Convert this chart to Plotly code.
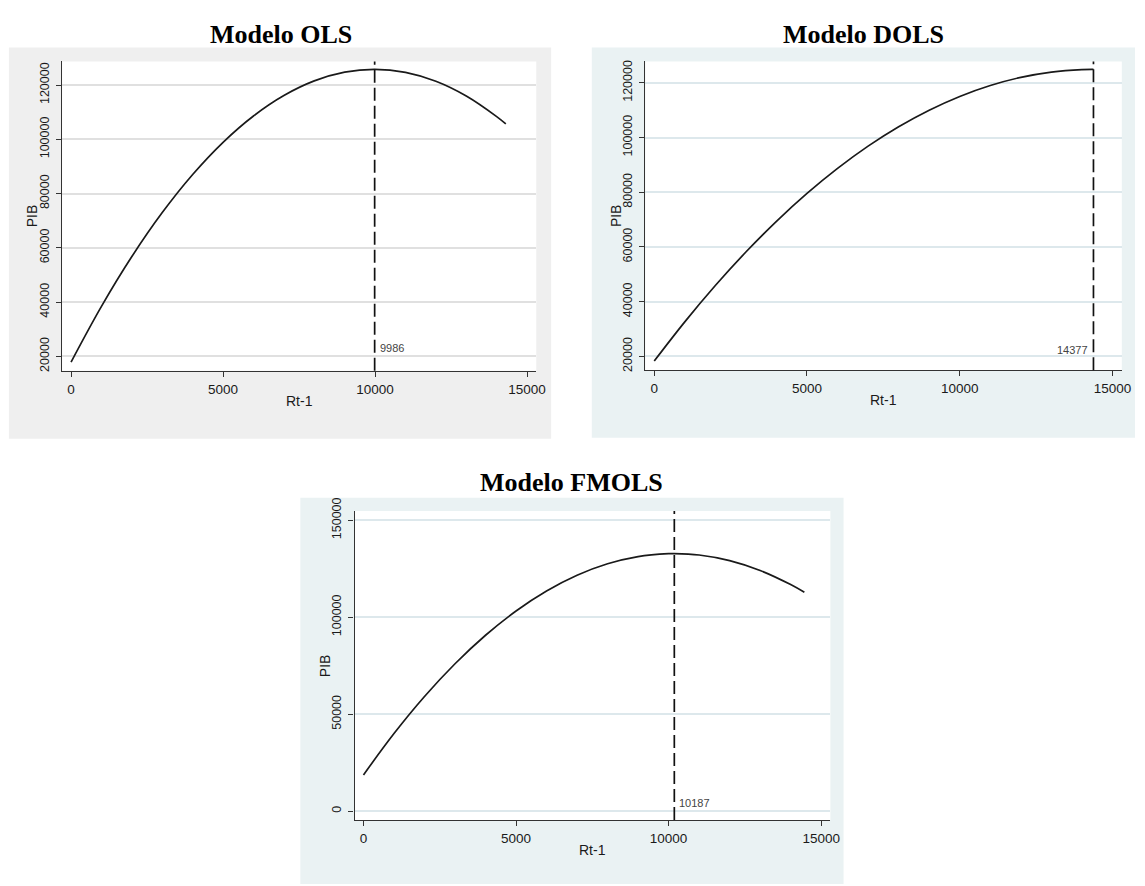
import plotly.graph_objects as go

W, H = 1145, 886

# ---------------- data ----------------
titles = ["Modelo OLS", "Modelo DOLS", "Modelo FMOLS"]

ols_rt = [0, 1000, 2000, 3000, 4000, 5000, 6000, 7000, 8000, 9000, 9986,
          11000, 12000, 13000, 14000, 14300]
ols_pib = [17900, 38430, 56790, 72990, 87030, 98900, 108610, 116150, 121530,
           124750, 125800, 124690, 121410, 115970, 108370, 105660]

dols_rt = [0, 1000, 2000, 3000, 4000, 5000, 6000, 7000, 8000, 9000, 10000,
           11000, 12000, 13000, 14000, 14377]
dols_pib = [18300, 32620, 45900, 58150, 69370, 79560, 88710, 96840, 103930,
            109990, 115020, 119020, 121990, 123920, 124830, 124900]

fmols_rt = [0, 1000, 2000, 3000, 4000, 5000, 6000, 7000, 8000, 9000, 10000,
            10187, 11000, 12000, 13000, 14000, 14450]
fmols_pib = [18750, 40040, 59140, 76030, 90730, 103230, 113530, 121640, 127540,
             131250, 132760, 132800, 132070, 129190, 124100, 116820, 112830]

turning_points = [9986, 14377, 10187]
turning_labels = ["9986", "14377", "10187"]

x_ticks = [0, 5000, 10000, 15000]
y_ticks_ols = [20000, 40000, 60000, 80000, 100000, 120000]
y_ticks_dols = [20000, 40000, 60000, 80000, 100000, 120000]
y_ticks_fmols = [0, 50000, 100000, 150000]

x_title = "Rt-1"
y_title = "PIB"

# ---------------- layout geometry (pixels) ----------------
panels = [
    dict(name="1", xs=ols_rt, ys=ols_pib, yt=y_ticks_ols,
         plot=(62.7, 541.0, 49.3, 364.0), bg=(9, 556, 35, 433),
         xr=[-293, 15302], yr=[14674, 128700],
         bgcol="#efefef", gridcol="#e0e0e0", title_xy=(283, 22),
         lab_side="right", lab_y=0.074),
    dict(name="2", xs=dols_rt, ys=dols_pib, yt=y_ticks_dols,
         plot=(651.0, 1131.7, 49.3, 363.3), bg=(597, 1145, 35, 432),
         xr=[-292, 15305], yr=[14970, 127800],
         bgcol="#eaf2f3", gridcol="#dde8ec", title_xy=(871, 22),
         lab_side="left", lab_y=0.064),
    dict(name="3", xs=fmols_rt, ys=fmols_pib, yt=y_ticks_fmols,
         plot=(357.7, 837.7, 506.7, 821.0), bg=(303, 851, 493, 886),
         xr=[-292, 15302], yr=[-4560, 154700],
         bgcol="#eaf2f3", gridcol="#dde8ec", title_xy=(577, 478),
         lab_side="right", lab_y=0.056),
]

fig = go.Figure()
shapes = []
annotations = []
layout_axes = {}

# panel backgrounds first
for p in panels:
    x0, x1, y0, y1 = p["bg"]
    shapes.append(dict(type="rect", xref="paper", yref="paper",
                       x0=x0 / W, x1=x1 / W, y0=1 - y1 / H, y1=1 - y0 / H,
                       fillcolor=p["bgcol"], line=dict(width=0), layer="below"))

for i, p in enumerate(panels):
    n = p["name"]
    xa = "xaxis" if n == "1" else f"xaxis{n}"
    ya = "yaxis" if n == "1" else f"yaxis{n}"
    xref = "x" if n == "1" else f"x{n}"
    yref = "y" if n == "1" else f"y{n}"
    px0, px1, py0, py1 = p["plot"]

    # white plot region
    shapes.append(dict(type="rect", xref="paper", yref="paper",
                       x0=px0 / W, x1=px1 / W, y0=1 - py1 / H, y1=1 - py0 / H,
                       fillcolor="white", line=dict(width=0), layer="below"))

    fig.add_trace(go.Scatter(x=p["xs"], y=p["ys"], mode="lines",
                             line=dict(color="#1a1a1a", width=1.7, shape="spline",
                                       smoothing=1.0),
                             xaxis=xref, yaxis=yref, showlegend=False,
                             hoverinfo="skip"))

    layout_axes[xa] = dict(domain=[px0 / W, px1 / W], range=p["xr"],
                           anchor=yref, tickvals=x_ticks,
                           ticktext=[str(v) for v in x_ticks],
                           showgrid=False, zeroline=False, showline=True,
                           linecolor="#333333", linewidth=1.3,
                           ticks="outside", ticklen=5, tickwidth=1.2,
                           tickcolor="#333333",
                           tickfont=dict(family="Liberation Sans", size=13.5,
                                         color="#1a1a1a"),
                           ticklabelstandoff=1, fixedrange=True)
    layout_axes[ya] = dict(domain=[1 - py1 / H, 1 - py0 / H], range=p["yr"],
                           anchor=xref, tickvals=p["yt"],
                           ticktext=[str(v) for v in p["yt"]],
                           tickangle=-90,
                           showgrid=True, gridcolor=p["gridcol"], gridwidth=1.5,
                           zeroline=False, showline=True,
                           linecolor="#333333", linewidth=1.3,
                           ticks="outside", ticklen=5, tickwidth=1.2,
                           tickcolor="#333333",
                           tickfont=dict(family="Liberation Sans", size=12.5,
                                         color="#1a1a1a"),
                           ticklabelstandoff=2, fixedrange=True)

    # turning point dashed line
    tp = turning_points[i]
    shapes.append(dict(type="line", xref=xref, yref=f"{yref} domain",
                       x0=tp, x1=tp, y0=0, y1=1,
                       line=dict(color="#111111", width=1.7, dash="13px,5px"),
                       layer="above"))
    if p["lab_side"] == "right":
        annotations.append(dict(xref=xref, yref=f"{yref} domain", x=tp, y=p["lab_y"],
                                text=turning_labels[i], showarrow=False,
                                xanchor="left", yanchor="middle", xshift=3,
                                font=dict(family="Liberation Sans", size=11,
                                          color="#444444")))
    else:
        annotations.append(dict(xref=xref, yref=f"{yref} domain", x=tp, y=p["lab_y"],
                                text=turning_labels[i], showarrow=False,
                                xanchor="right", yanchor="middle", xshift=-3,
                                font=dict(family="Liberation Sans", size=11,
                                          color="#444444")))

    # axis titles
    annotations.append(dict(xref=f"{xref} domain", yref=f"{yref} domain",
                            x=0.5, y=0, yshift=-30, text=x_title, showarrow=False,
                            xanchor="center", yanchor="middle",
                            font=dict(family="Liberation Sans", size=14,
                                      color="#1a1a1a")))
    annotations.append(dict(xref=f"{xref} domain", yref=f"{yref} domain",
                            x=0, y=0.5, xshift=-30, text=y_title, showarrow=False,
                            textangle=-90, xanchor="center", yanchor="middle",
                            font=dict(family="Liberation Sans", size=14,
                                      color="#1a1a1a")))

    # panel title
    tx, ty = p["title_xy"]
    annotations.append(dict(xref="paper", yref="paper", x=tx / W, y=1 - ty / H,
                            text=f"<b>{titles[i]}</b>", showarrow=False,
                            xanchor="center", yanchor="middle",
                            font=dict(family="Liberation Serif", size=26,
                                      color="#000000")))

fig.update_layout(width=W, height=H, margin=dict(l=0, r=0, t=0, b=0),
                  paper_bgcolor="white", plot_bgcolor="white",
                  shapes=shapes, annotations=annotations, showlegend=False,
                  **layout_axes)

fig.write_html("out.html", config={"displayModeBar": False})
